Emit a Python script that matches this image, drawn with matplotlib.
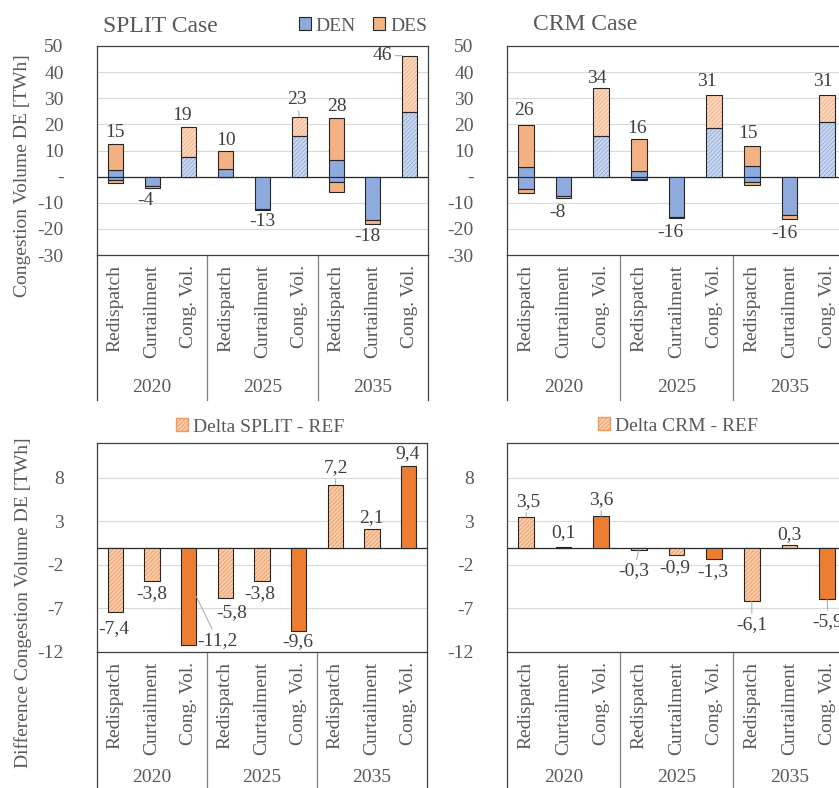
import matplotlib
matplotlib.use("Agg")
import matplotlib.pyplot as plt
import matplotlib.transforms as mtransforms
from matplotlib.patches import Patch

plt.rcParams['font.family'] = ['Liberation Serif', 'DejaVu Serif']
plt.rcParams['hatch.linewidth'] = 0.6

# Categories
categories = ['Redispatch', 'Curtailment', 'Cong. Vol.'] * 3
years = ['2020', '2025', '2035']

# SPLIT case, TWh (positive and negative parts per zone)
split_den_pos = [2.7, 0, 7.6, 2.8, 0, 15.6, 6.2, 0, 24.8]
split_des_pos = [9.9, 0, 11.4, 7.0, 0, 7.3, 16.3, 0, 21.5]
split_den_neg = [-1.3, -3.7, 0, -0.2, -12.4, 0, -2.2, -16.6, 0]
split_des_neg = [-1.0, -0.6, 0, -0.1, -0.4, 0, -3.5, -1.6, 0]
split_labels = [15, -4, 19, 10, -13, 23, 28, -18, 46]

# CRM case
crm_den_pos = [3.6, 0, 15.5, 2.2, 0, 18.6, 4.1, 0, 21.0]
crm_des_pos = [16.1, 0, 18.5, 12.2, 0, 12.7, 7.6, 0, 10.3]
crm_den_neg = [-4.7, -7.3, 0, -0.9, -15.4, 0, -2.2, -14.7, 0]
crm_des_neg = [-1.6, -0.8, 0, -0.5, -0.6, 0, -1.1, -1.7, 0]
crm_labels = [26, -8, 34, 16, -16, 31, 15, -16, 31]

# Deltas vs REF
delta_split = [-7.4, -3.8, -11.2, -5.8, -3.8, -9.6, 7.2, 2.1, 9.4]
delta_crm = [3.5, 0.1, 3.6, -0.3, -0.9, -1.3, -6.1, 0.3, -5.9]

# label offsets (pixels, away from bar end) - manual like in the excel file
split_dx = [0, -7, -7, 0, 0, -2, 1, -5, -27]
split_dy = [11, 12.5, 11.4, 10.4, 11, 17, 11, 12, 0]
crm_dx = [-2, -6, -4, -2, -6, -7, -4, -5, -4]
crm_dy = [14.5, 15, 9, 11, 14.5, 13, 13, 14.5, 13]
dsplit_dx = [-2, 0, 29, 6, -2, -1, 1, -1, -1]
dsplit_dy = [16.6, 13, -4.6, 14.5, 13, 10.4, 17, 11.7, 12]
dcrm_dx = [2, 0, 0, -5, -1.5, -1, 0, 0, 1]
dcrm_dy = [15.7, 14, 17, 20.7, 12.6, 13, 24, 10, 22.7]

TXT = '#595959'
EDGE = '#262626'
BLUE, BLUE_L = '#8FAADC', '#CBD8F0'
ORANGE, ORANGE_L = '#F4B183', '#FAD8C0'
DELTA_L, DELTA_H = '#F9CDAE', '#EE9A5C'
DARK_OR = '#ED7D31'
HATCH = '////////'
W = 0.41

fig = plt.figure(figsize=(8.39, 7.88), dpi=100)


def px_axes(l, t, r, b):
    return fig.add_axes([l / 839, 1 - b / 788, (r - l) / 839, (b - t) / 788])


ax_split = px_axes(97, 46, 428, 255)
ax_crm = px_axes(507, 46, 846, 255)
ax_dsplit = px_axes(97, 443, 427, 652)
ax_dcrm = px_axes(507, 443, 846, 652)


def style_axes(ax, ticks, ticklabels, ylim, depth, year_y):
    ax.set_xlim(-0.5, 8.5)
    ax.set_ylim(*ylim)
    ax.set_yticks(ticks)
    ax.set_yticklabels(ticklabels)
    ax.tick_params(axis='y', length=0, pad=24, labelsize=14, labelcolor=TXT)
    ax.set_xticks([])
    ax.grid(axis='y', color='#D9D9D9', lw=0.8)
    ax.set_axisbelow(True)
    for s in ax.spines.values():
        s.set_color('#404040')
        s.set_linewidth(0.9)
    ax.axhline(0, color=EDGE, lw=0.9, zorder=1.5)
    trans = ax.get_xaxis_transform()
    for i, c in enumerate(categories):
        ax.text(i, -0.048, c, rotation=90, ha='center', va='top', transform=trans,
                fontsize=14, color=TXT)
    for g, y in enumerate(years):
        ax.text(3 * g + 1, year_y, y, ha='center', va='center', transform=trans,
                fontsize=14, color=TXT)
    for xs in [-0.5, 2.5, 5.5, 8.5]:
        col = '#404040' if xs in (-0.5, 8.5) else '#7F7F7F'
        ax.plot([xs, xs], [0, -depth], transform=trans, color=col, lw=0.9, clip_on=False)


def draw_bar(ax, x, h, bottom, face, hatch_color=None):
    if h == 0:
        return
    if hatch_color:
        ax.bar(x, h, W, bottom, color=face, edgecolor=hatch_color, hatch=HATCH, lw=0, zorder=2)
        ax.bar(x, h, W, bottom, fill=False, edgecolor=EDGE, lw=0.8, zorder=2.1)
    else:
        ax.bar(x, h, W, bottom, color=face, edgecolor=EDGE, lw=0.8, zorder=2)


def put_label(ax, x, yend, text, dx, dy, leader=None):
    off = mtransforms.offset_copy(ax.transData, fig=fig, x=dx * 0.72, y=dy * 0.72, units='points')
    kw = {}
    if leader is not None:
        kw['arrowprops'] = dict(arrowstyle='-', color='#A6A6A6', lw=0.7, shrinkA=0, shrinkB=0)
    ax.annotate(text, xy=leader if leader is not None else (x, yend), xycoords='data',
                xytext=(x, yend), textcoords=off, ha='center', va='center',
                fontsize=14, color='#404040', annotation_clip=False, zorder=5, **kw)


def stacked_panel(ax, den_pos, des_pos, den_neg, des_neg, labels, dxs, dys, leaders):
    top_ticks = list(range(-30, 51, 10))
    style_axes(ax, top_ticks, ['-' if t == 0 else str(t) for t in top_ticks], (-30, 50),
               0.694, -0.632)
    for i in range(9):
        hatched = categories[i] == 'Cong. Vol.'
        draw_bar(ax, i, den_pos[i], 0, BLUE_L if hatched else BLUE, BLUE if hatched else None)
        draw_bar(ax, i, des_pos[i], den_pos[i], ORANGE_L if hatched else ORANGE,
                 ORANGE if hatched else None)
        draw_bar(ax, i, den_neg[i], 0, BLUE)
        draw_bar(ax, i, des_neg[i], den_neg[i], ORANGE)
        if labels[i] > 0:
            yend, sgn = den_pos[i] + des_pos[i], 1
        else:
            yend, sgn = den_neg[i] + des_neg[i], -1
        lead = None
        if i in leaders:
            lead = (i - W / 2, yend) if dxs[i] < -15 else (i, yend)
        put_label(ax, i, yend, str(labels[i]), dxs[i], sgn * dys[i], lead)


def delta_panel(ax, vals, dxs, dys, leaders):
    ticks = [-12, -7, -2, 3, 8]
    style_axes(ax, ticks, [str(t) for t in ticks], (-12, 12), 1.0, -0.6)
    for i, v in enumerate(vals):
        if categories[i] == 'Cong. Vol.':
            draw_bar(ax, i, v, 0, DARK_OR)
        else:
            draw_bar(ax, i, v, 0, DELTA_L, DELTA_H)
        sgn = 1 if v >= 0 else -1
        lead = None
        if i in leaders:
            lead = (i, v) if leaders[i] == 'end' else (i + W / 2, v / 2)
        put_label(ax, i, v, f'{v:.1f}'.replace('.', ','), dxs[i], sgn * dys[i], lead)


stacked_panel(ax_split, split_den_pos, split_des_pos, split_den_neg, split_des_neg,
              split_labels, split_dx, split_dy, [2, 5, 8])
stacked_panel(ax_crm, crm_den_pos, crm_des_pos, crm_den_neg, crm_des_neg,
              crm_labels, crm_dx, crm_dy, [])
delta_panel(ax_dsplit, delta_split, dsplit_dx, dsplit_dy, {2: 'side', 6: 'end'})
delta_panel(ax_dcrm, delta_crm, dcrm_dx, dcrm_dy, {0: 'end', 2: 'end', 3: 'end', 6: 'end', 8: 'end'})

# titles and legends
fig.text(103 / 839, 1 - 27 / 788, 'SPLIT Case', fontsize=17, color=TXT, va='center', ha='left')
fig.text(533 / 839, 1 - 24 / 788, 'CRM Case', fontsize=17, color=TXT, va='center', ha='left')

leg_kw = dict(bbox_transform=fig.transFigure, frameon=False, fontsize=14, labelcolor=TXT,
              handlelength=0.6, handleheight=0.6, handletextpad=0.25, columnspacing=0.9,
              borderaxespad=0, borderpad=0)
ax_split.legend(handles=[Patch(fc=BLUE, ec=EDGE, lw=0.8, label='DEN'),
                         Patch(fc=ORANGE, ec=EDGE, lw=0.8, label='DES')],
                loc='center right', bbox_to_anchor=(427 / 839, 1 - 26 / 788), ncol=2, **leg_kw)
ax_dsplit.legend(handles=[Patch(fc=DELTA_L, ec=DELTA_H, hatch=HATCH, label='Delta SPLIT - REF')],
                 loc='center', bbox_to_anchor=(260 / 839, 1 - 427 / 788), **leg_kw)
ax_dcrm.legend(handles=[Patch(fc=DELTA_L, ec=DELTA_H, hatch=HATCH, label='Delta CRM - REF')],
               loc='center', bbox_to_anchor=(678 / 839, 1 - 426 / 788), **leg_kw)

fig.text(23 / 839, 1 - 176 / 788, 'Congestion Volume DE [TWh]', rotation=90,
         fontsize=14, color=TXT, ha='center', va='center')
fig.text(23 / 839, 1 - 603 / 788, 'Difference Congestion Volume DE [TWh]', rotation=90,
         fontsize=14, color=TXT, ha='center', va='center')

fig.savefig('out.png', dpi=100)
